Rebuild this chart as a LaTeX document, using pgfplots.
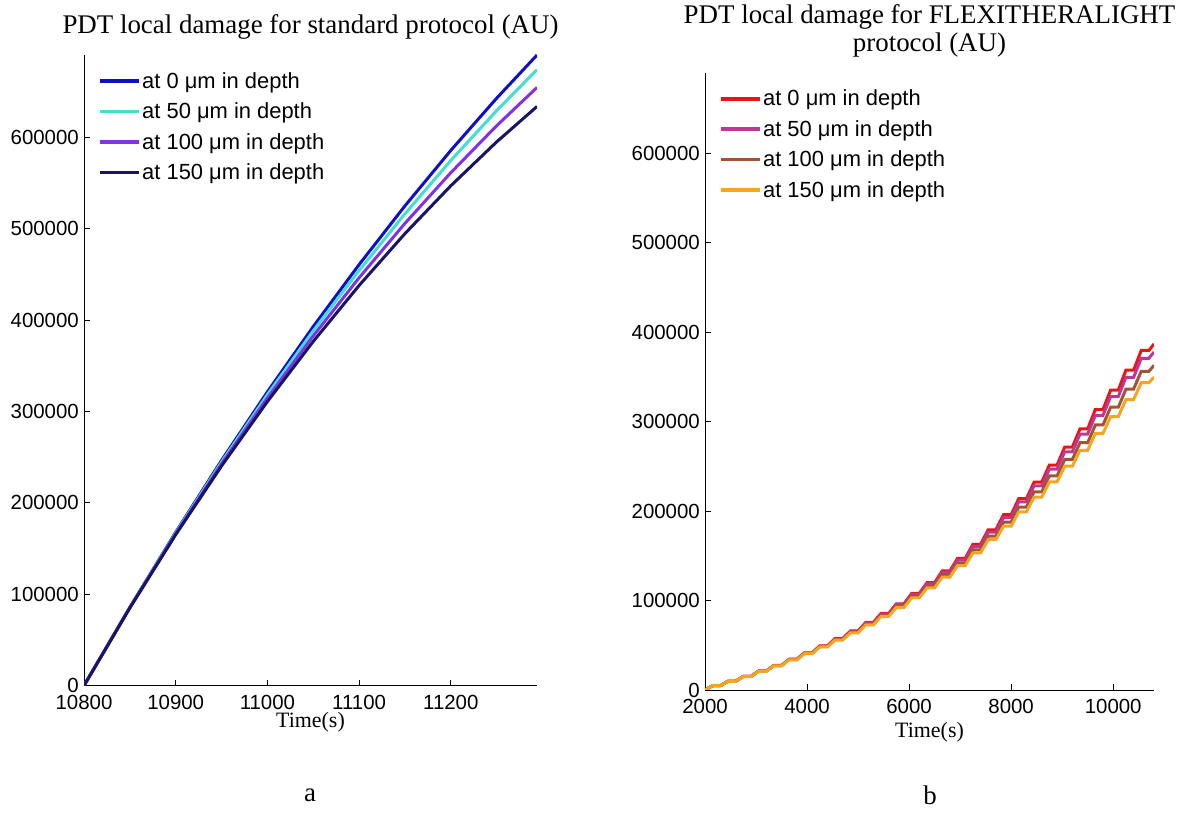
\documentclass[border=0pt]{standalone}
\usepackage{fontspec}
\setmainfont{Liberation Sans}
\newfontfamily\timesfont{Liberation Serif}
\usepackage{pgfplots}
\usepackage{pgfplotstable}
\pgfplotsset{compat=1.18}
\definecolor{cblue}{RGB}{15,15,200}
\definecolor{ccyan}{RGB}{64,224,208}
\definecolor{cpurple}{RGB}{130,50,230}
\definecolor{cnavy}{RGB}{25,20,100}
\definecolor{cred}{RGB}{235,20,20}
\definecolor{cmag}{RGB}{190,55,150}
\definecolor{cbrown}{RGB}{160,85,55}
\definecolor{corange}{RGB}{245,165,30}

\pgfplotstableread{
t b c p n
10800 0 0 0 0
10850 85712 85511 85266 85004
10900 167849 167060 166103 165076
10950 246411 244676 242567 240307
11000 321398 318380 314710 310779
11050 392809 388197 382592 376586
11100 460645 454154 446264 437816
11150 524905 516276 505788 494560
11200 585590 574587 561218 546900
11250 642700 629120 612609 594928
11294 689960 673953 654494 633660
}\leftdata

\pgfplotstableread{
t r m b o
2000 0 0 0 0
2150 4800 4796 4790 4784
2300 4800 4796 4790 4784
2450 9800 9784 9759 9736
2600 9800 9784 9759 9736
2750 15200 15164 15104 15051
2900 15200 15164 15104 15051
3050 21200 21133 21021 20922
3200 21200 21133 21021 20922
3350 27500 27391 27209 27050
3500 27500 27391 27209 27050
3650 34400 34236 33964 33724
3800 34400 34236 33964 33724
3950 41600 41369 40985 40647
4100 41600 41369 40985 40647
4250 49400 49086 48565 48107
4400 49400 49086 48565 48107
4550 57600 57188 56504 55904
4700 57600 57188 56504 55904
4850 66000 65476 64605 63840
5000 66000 65476 64605 63840
5150 75600 74939 73842 72878
5300 75600 74939 73842 72878
5450 85600 84784 83429 82238
5600 85600 84784 83429 82238
5750 96400 95404 93751 92298
5900 96400 95404 93751 92298
6050 108000 106799 104804 103051
6200 108000 106799 104804 103051
6350 120000 118570 116196 114109
6500 120000 118570 116196 114109
6650 133200 131507 128695 126226
6800 133200 131507 128695 126226
6950 147200 145213 141911 139010
7100 147200 145213 141911 139010
7250 162800 160472 156607 153209
7400 162800 160472 156607 153209
7550 179200 176496 172003 168057
7700 179200 176496 172003 168057
7850 196000 192886 187715 183172
8000 196000 192886 187715 183172
8150 214000 210430 204501 199292
8300 214000 210430 204501 199292
8450 232400 228340 221593 215667
8600 232400 228340 221593 215667
8750 251600 247003 239370 232662
8900 251600 247003 239370 232662
9050 271600 266423 257822 250266
9200 271600 266423 257822 250266
9350 292000 286201 276571 268109
9500 292000 286201 276571 268109
9650 313600 307124 296368 286916
9800 313600 307124 296368 286916
9950 335400 328206 316259 305764
10100 335400 328206 316259 305764
10250 357600 349647 336437 324829
10400 357600 349647 336437 324829
10550 379700 370955 356428 343663
10700 379700 370955 356428 343663
10800 387000 377983 363006 349848
}\rightdata

\pgfplotsset{
  mstyle/.style={
    scale only axis,
    axis x line*=bottom, axis y line*=left,
    axis line style={-, line width=0.8bp, black},
    tick align=inside,
    major tick length=6bp,
    tick style={line width=0.8bp, black},
    ticklabel style={font=\fontsize{20.5}{24}\selectfont},
    /pgf/number format/assume math mode=true,
    /pgf/number format/fixed,
    /pgf/number format/1000 sep={},
    scaled ticks=false,
    ymin=0, ymax=690000,
    ytick={0,100000,200000,300000,400000,500000,600000},
    yticklabel style={anchor=east, inner sep=0pt, xshift=-5bp},
    xticklabel style={anchor=north, inner sep=0pt, yshift=-9bp},
    title style={font=\timesfont\fontsize{27}{28}\selectfont, at={(0.5,1)}, anchor=south, yshift=6bp, align=center},
    xlabel style={font=\timesfont\fontsize{22}{26}\selectfont, at={(axis description cs:0.5,0)}, anchor=center, yshift=-37bp},
    legend style={draw=none, fill=none, font=\fontsize{22}{26}\selectfont, anchor=north west, inner sep=0pt, row sep=10bp, nodes={inner sep=1.5bp}},
    legend cell align=left,
    legend image code/.code={\draw[##1, line width=3.5bp] (0bp,0bp) -- (39bp,0bp);},
    every axis plot/.append style={line width=3bp},
  }
}

\begin{document}
\begin{tikzpicture}
\useasboundingbox (0,0) rectangle (1192bp,820bp);
\begin{axis}[mstyle,
  at={(84bp,134.4bp)}, anchor=south west,
  width=453bp, height=630.6bp,
  xmin=10800, xmax=11294,
  xtick={10800,10900,11000,11100,11200},
  title={PDT local damage for standard protocol (AU)},
  xlabel={Time(s)},
  legend style={at={(0.031,0.975)}},
]
\addplot[cblue] table[x=t,y=b] {\leftdata};
\addplot[ccyan] table[x=t,y=c] {\leftdata};
\addplot[cpurple] table[x=t,y=p] {\leftdata};
\addplot[cnavy] table[x=t,y=n] {\leftdata};
\legend{at 0 μm in depth, at 50 μm in depth, at 100 μm in depth, at 150 μm in depth}
\end{axis}
\begin{axis}[mstyle,
  at={(705bp,130bp)}, anchor=south west,
  width=449bp, height=617bp,
  xmin=2000, xmax=10800,
  xtick={2000,4000,6000,8000,10000},
  title={PDT local damage for FLEXITHERALIGHT\\protocol (AU)},
  xlabel={Time(s)},
  xlabel style={yshift=-5bp},
  legend style={at={(0.031,0.975)}},
]
\addplot[cred] table[x=t,y=r] {\rightdata};
\addplot[cmag] table[x=t,y=m] {\rightdata};
\addplot[cbrown] table[x=t,y=b] {\rightdata};
\addplot[corange] table[x=t,y=o] {\rightdata};
\legend{at 0 μm in depth, at 50 μm in depth, at 100 μm in depth, at 150 μm in depth}
\end{axis}
\node[font=\timesfont\fontsize{27}{30}\selectfont] at (310bp,25bp) {a};
\node[font=\timesfont\fontsize{27}{30}\selectfont] at (930bp,25bp) {b};
\end{tikzpicture}
\end{document}
